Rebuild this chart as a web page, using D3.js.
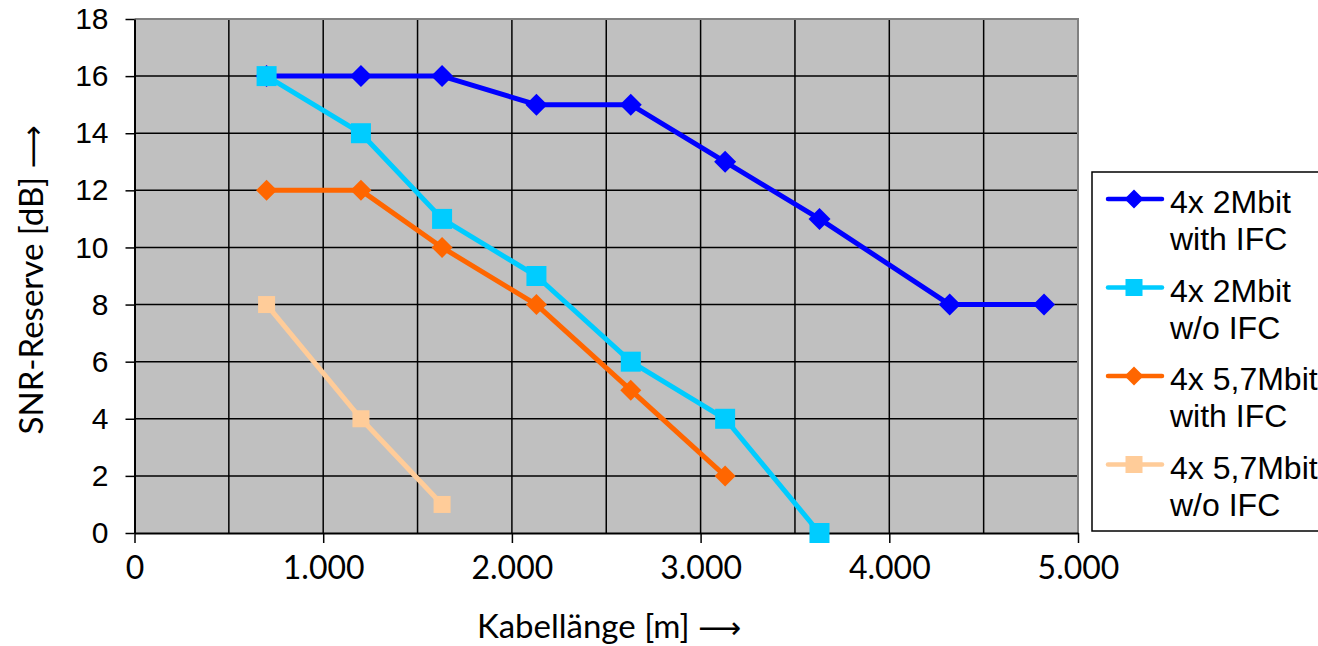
<!DOCTYPE html>
<html>
<head>
<meta charset="utf-8">
<title>SNR-Reserve</title>
<style>
  body { margin: 0; background: #fff; }
  svg { display: block; }
</style>
</head>
<body>
<svg id="chart"></svg>
<script src="https://d3js.org/d3.v7.min.js"></script>
<script>
// data
const xLen = [700, 1200, 1630, 2130, 2630, 3130, 3630, 4320, 4820];
const blueIFC = [16, 16, 16, 15, 15, 13, 11, 8, 8];          // 4x 2Mbit with IFC
const cyanNoIFC = [16, 14, 11, 9, 6, 4, 0];                  // 4x 2Mbit w/o IFC
const orangeIFC = [12, 12, 10, 8, 5, 2];                     // 4x 5,7Mbit with IFC
const peachNoIFC = [8, 4, 1];                                // 4x 5,7Mbit w/o IFC
const xTicks = [0, 1000, 2000, 3000, 4000, 5000];
const xGrid = [500, 1000, 1500, 2000, 2500, 3000, 3500, 4000, 4500];
const yTicks = [0, 2, 4, 6, 8, 10, 12, 14, 16, 18];
const legendLabels = [["4x 2Mbit", "with IFC"], ["4x 2Mbit", "w/o IFC"], ["4x 5,7Mbit", "with IFC"], ["4x 5,7Mbit", "w/o IFC"]];

const width = 1318, height = 646;
const series = [
  {vals: blueIFC, color: '#0000ff', shape: 'diamond', size: 11},
  {vals: cyanNoIFC, color: '#00ccff', shape: 'square', size: 10},
  {vals: orangeIFC, color: '#ff6600', shape: 'diamond', size: 10.5},
  {vals: peachNoIFC, color: '#ffcc99', shape: 'square', size: 8.5}
];

const svg = d3.select('#chart').attr('width', width).attr('height', height);

const x = d3.scaleLinear().domain([0, 5000]).range([134.5, 1078]);
const y = d3.scaleLinear().domain([0, 18]).range([533, 19]);

const de = d3.formatLocale({decimal: ',', thousands: '.', grouping: [3], currency: ['', '€']});
const fmt = de.format(',');

// plot background
svg.append('rect')
  .attr('x', x(0)).attr('y', y(18))
  .attr('width', x(5000) - x(0)).attr('height', y(0) - y(18))
  .attr('fill', '#c0c0c0');

// grid
svg.append('g').selectAll('line').data(xGrid).join('line')
  .attr('x1', d => x(d)).attr('x2', d => x(d))
  .attr('y1', y(18)).attr('y2', y(0))
  .attr('stroke', '#000').attr('stroke-width', 1.5);
svg.append('g').selectAll('line').data(yTicks.slice(1, -1)).join('line')
  .attr('x1', x(0)).attr('x2', x(5000))
  .attr('y1', d => y(d)).attr('y2', d => y(d))
  .attr('stroke', '#000').attr('stroke-width', 1.5);

// top / right border
svg.append('path')
  .attr('d', `M${x(0)},${y(18)}H${x(5000)}V${y(0)}`)
  .attr('fill', 'none').attr('stroke', '#808080').attr('stroke-width', 2);

// axes
const xAxis = svg.append('g')
  .attr('transform', `translate(0,${y(0)})`)
  .call(d3.axisBottom(x).tickValues(xTicks).tickFormat(fmt).tickSize(10).tickSizeOuter(0).tickPadding(13));
xAxis.select('.domain').attr('stroke', '#000').attr('stroke-width', 2);
xAxis.selectAll('.tick line').attr('stroke', '#000').attr('stroke-width', 1.5);
xAxis.selectAll('.tick text').attr('font-family', 'Lato, sans-serif').attr('font-size', 32).attr('fill', '#000');

const yAxis = svg.append('g')
  .attr('transform', `translate(${x(0)},0)`)
  .call(d3.axisLeft(y).tickValues(yTicks).tickSize(9).tickSizeOuter(0).tickPadding(17));
yAxis.select('.domain').attr('stroke', '#000').attr('stroke-width', 2);
yAxis.selectAll('.tick line').attr('stroke', '#000').attr('stroke-width', 1.5);
yAxis.selectAll('.tick text').attr('font-family', '"Liberation Sans", Arial, sans-serif').attr('font-size', 30).attr('fill', '#000');

// axis titles
const xt = svg.append('text')
  .attr('x', 609).attr('y', 638)
  .attr('text-anchor', 'middle')
  .attr('font-family', 'Lato, sans-serif').attr('font-size', 33);
xt.append('tspan').text('Kabellänge [m] ');
xt.append('tspan').attr('font-family', '"DejaVu Sans", sans-serif').attr('font-size', 30).text('⟶');

const yt = svg.append('text')
  .attr('transform', 'translate(43,280) rotate(-90)')
  .attr('text-anchor', 'middle')
  .attr('font-family', 'Lato, sans-serif').attr('font-size', 33);
yt.append('tspan').text('SNR-Reserve [dB] ');
yt.append('tspan').attr('font-family', '"DejaVu Sans", sans-serif').attr('font-size', 30).text('⟶');

function marker(g, shape, s, color) {
  if (shape === 'diamond') {
    g.append('path').attr('d', `M0,${-s}L${s},0L0,${s}L${-s},0Z`).attr('fill', color);
  } else {
    g.append('rect').attr('x', -s).attr('y', -s).attr('width', 2 * s).attr('height', 2 * s).attr('fill', color);
  }
}

const line = d3.line().x(d => x(d[0])).y(d => y(d[1]));

// later series are drawn on top, as in the original
series.forEach(s => {
  const pts = s.vals.map((v, i) => [xLen[i], v]);
  svg.append('path')
    .attr('d', line(pts))
    .attr('fill', 'none').attr('stroke', s.color).attr('stroke-width', 5)
    .attr('stroke-linejoin', 'round');
  pts.forEach(p => {
    const g = svg.append('g').attr('transform', `translate(${x(p[0])},${y(p[1])})`);
    marker(g, s.shape, s.size, s.color);
  });
});

// legend
svg.append('rect')
  .attr('x', 1092).attr('y', 172).attr('width', 240).attr('height', 359)
  .attr('fill', '#fff').attr('stroke', '#000').attr('stroke-width', 1.5);

series.forEach((s, i) => {
  const by = 213 + i * 88.5;
  const g = svg.append('g');
  g.append('line')
    .attr('x1', 1108).attr('x2', 1162).attr('y1', by - 14).attr('y2', by - 14)
    .attr('stroke', s.color).attr('stroke-width', 4.5).attr('stroke-linecap', 'round');
  const m = g.append('g').attr('transform', `translate(1134,${by - 14})`);
  marker(m, s.shape, s.shape === 'diamond' ? 9.5 : 8.5, s.color);
  legendLabels[i].forEach((t, j) => {
    g.append('text')
      .attr('x', 1170).attr('y', by + j * 37)
      .attr('font-family', '"Liberation Sans", Arial, sans-serif').attr('font-size', 32)
      .text(t);
  });
});
</script>
</body>
</html>
